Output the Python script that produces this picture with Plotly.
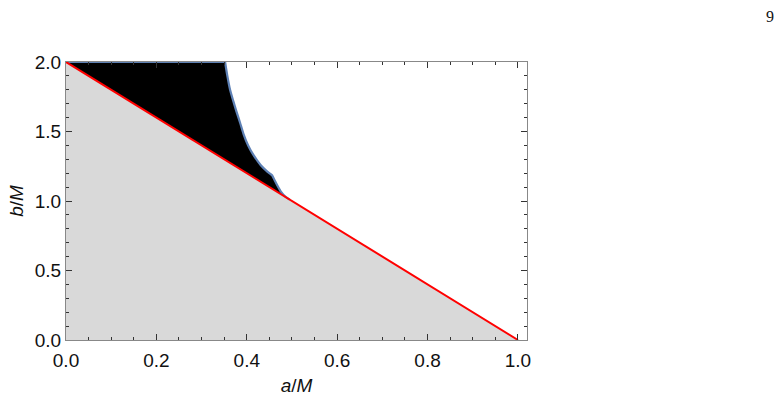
import plotly.graph_objects as go

# boundary curve of the black region (a/M, b/M)
curve_a = [0.352, 0.357, 0.363, 0.370, 0.377, 0.385, 0.393, 0.403, 0.415, 0.431, 0.446, 0.452, 0.456, 0.463, 0.475, 0.486, 0.495]
curve_b = [2.0, 1.90, 1.80, 1.72, 1.645, 1.565, 1.48, 1.40, 1.33, 1.257, 1.21, 1.195, 1.185, 1.14, 1.07, 1.03, 1.01]

# upper edge of the black region (b/M = 2)
top_a = [0.0, 0.352]
top_b = [2.0, 2.0]

# red limit line b = 2M - 2a
line_a = [0.0, 1.0]
line_b = [2.0, 0.0]

FONT = "Liberation Sans, Arial"

fig = go.Figure()

# gray region under the line
fig.add_trace(go.Scatter(x=[0.0] + line_a + [0.0], y=[0.0] + line_b + [0.0],
                         fill="toself", fillcolor="#d9d9d9", line=dict(width=0),
                         mode="lines", hoverinfo="skip", showlegend=False))

# black region between line and curve
fig.add_trace(go.Scatter(x=top_a[:1] + curve_a + [0.0], y=top_b[:1] + curve_b + [2.0],
                         fill="toself", fillcolor="#000000", line=dict(width=0),
                         mode="lines", hoverinfo="skip", showlegend=False))

# blue boundary: top edge and curve
fig.add_trace(go.Scatter(x=top_a, y=top_b, mode="lines", cliponaxis=False,
                         line=dict(color="#5e81b5", width=2.2), showlegend=False))
fig.add_trace(go.Scatter(x=curve_a, y=curve_b, mode="lines", line_shape="spline",
                         line=dict(color="#5e81b5", width=2.2, smoothing=0.6), showlegend=False))

# red line
fig.add_trace(go.Scatter(x=line_a, y=line_b, mode="lines",
                         line=dict(color="#ff0000", width=2), showlegend=False))

axis_common = dict(
    showgrid=False, zeroline=False, showline=True, linecolor="#888888", linewidth=1.2,
    mirror="ticks", ticks="inside", ticklen=6, tickwidth=1, tickcolor="#333333",
    tickfont=dict(family=FONT, size=19, color="#111111"),
)

fig.update_xaxes(range=[0, 1.02], tickvals=[0, 0.2, 0.4, 0.6, 0.8, 1.0],
                 ticktext=["0.0", "0.2", "0.4", "0.6", "0.8", "1.0"],
                 minor=dict(dtick=0.05, tick0=0, ticks="inside", ticklen=3, tickcolor="#333333"),
                 ticklabelstandoff=3,
                 title=dict(text="<i>a</i>/<i>M</i>", font=dict(family=FONT, size=19, color="#111111"), standoff=8),
                 **axis_common)
fig.update_yaxes(range=[0, 2.0], tickvals=[0, 0.5, 1.0, 1.5, 2.0],
                 ticktext=["0.0", "0.5", "1.0", "1.5", "2.0"],
                 minor=dict(dtick=0.1, tick0=0, ticks="inside", ticklen=3, tickcolor="#333333"),
                 title=dict(text="<i>b</i>/<i>M</i>", font=dict(family=FONT, size=19, color="#111111"), standoff=6),
                 **axis_common)

fig.add_annotation(text="9", xref="paper", yref="paper", x=(770 - 66) / 461, y=(344 - 16) / 282,
                   xanchor="center", yanchor="middle", showarrow=False,
                   font=dict(family="Liberation Serif, DejaVu Serif, serif", size=16, color="#111111"))

fig.update_layout(
    width=783, height=404,
    margin=dict(l=66, r=256, t=62, b=60),
    plot_bgcolor="white", paper_bgcolor="white",
)

fig.write_html("out.html")
